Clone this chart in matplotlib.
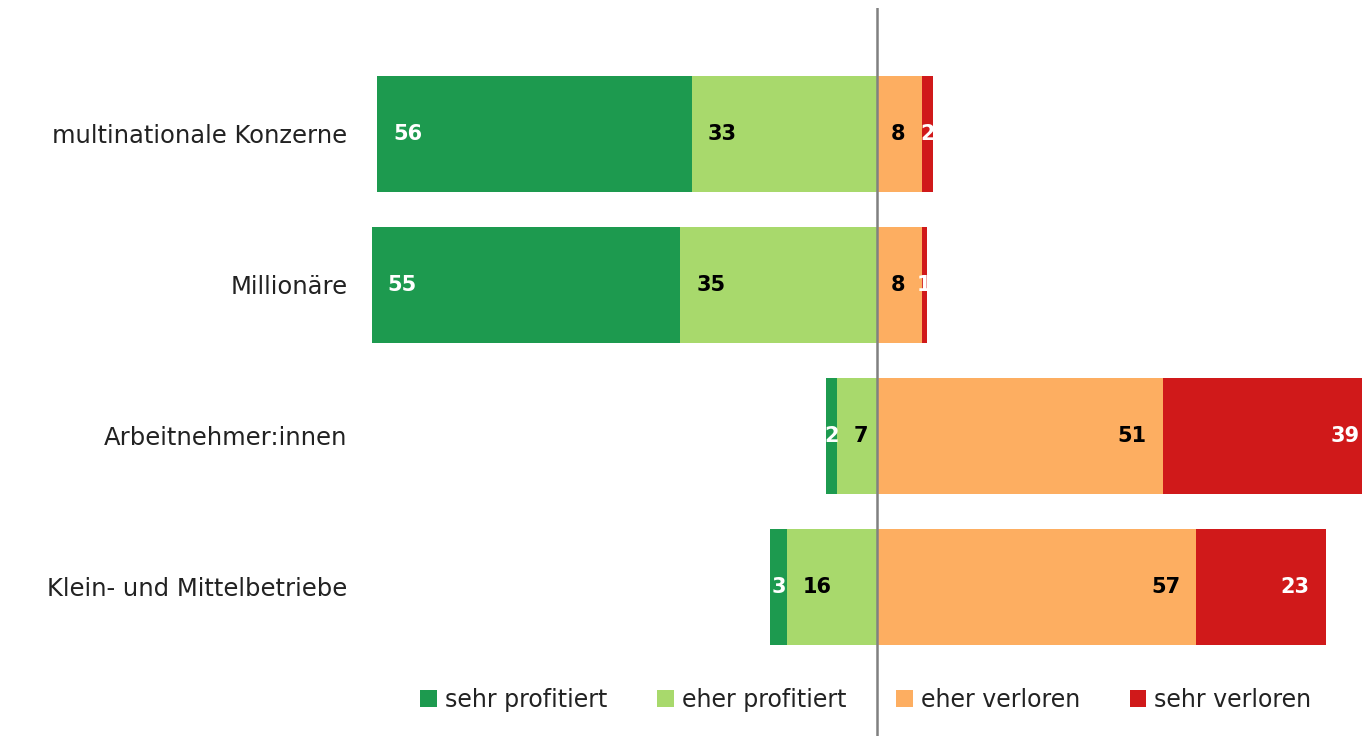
import matplotlib
matplotlib.use("Agg")
import matplotlib.pyplot as plt
from matplotlib.patches import Patch

plt.rcParams['font.family'] = ['DejaVu Sans']

categories = ["multinationale Konzerne", "Millionäre", "Arbeitnehmer:innen",
              "Klein- und Mittelbetriebe"]
sehr_profitiert = [56, 55, 2, 3]
eher_profitiert = [33, 35, 7, 16]
eher_verloren = [8, 8, 51, 57]
sehr_verloren = [2, 1, 39, 23]
series_names = ["sehr profitiert", "eher profitiert", "eher verloren", "sehr verloren"]

colors = ["#1d9a4f", "#a8d96c", "#fdae61", "#d0191a"]
text_colors = ["white", "black", "black", "white"]

XMIN, XMAX = -92.1, 86.5

fig = plt.figure(figsize=(13.62, 7.36), dpi=100)
ax = fig.add_axes([360 / 1362, 0, 1002 / 1362, 728 / 736])

ys = list(range(len(categories)))
h = 0.77

for i, y in enumerate(ys):
    # left side: dark green outermost, light green next to the zero line
    left_vals = [(-(sehr_profitiert[i] + eher_profitiert[i]), sehr_profitiert[i], 0),
                 (-eher_profitiert[i], eher_profitiert[i], 1)]
    right_vals = [(0, eher_verloren[i], 2),
                  (eher_verloren[i], sehr_verloren[i], 3)]
    for start, w, k in left_vals + right_vals:
        ax.barh(y, w, left=start, height=h, color=colors[k], edgecolor="none")
        if w < 5:
            ax.annotate(str(w), (start + w / 2, y), ha="center", va="center",
                        fontsize=15, fontweight="bold", color=text_colors[k])
        elif k < 2:
            ax.annotate(str(w), (start, y), xytext=(11.5, 0), textcoords="offset points",
                        ha="left", va="center", fontsize=15, fontweight="bold",
                        color=text_colors[k])
        else:
            end = start + w
            off = -11.5
            if end > XMAX:  # bar runs off the edge, keep label inside
                end, off = XMAX, -1.5
            ax.annotate(str(w), (end, y), xytext=(off, 0), textcoords="offset points",
                        ha="right", va="center", fontsize=15, fontweight="bold",
                        color=text_colors[k])

ax.axvline(0, color="#808080", lw=1.8)
ax.set_xlim(XMIN, XMAX)
ax.set_ylim(3.987, -0.834)
ax.set_yticks(ys)
ax.set_yticklabels(categories, fontsize=17.5, color="#222222")
ax.tick_params(axis="y", length=0, pad=9)
ax.set_xticks([])
for s in ax.spines.values():
    s.set_visible(False)

handles = [Patch(facecolor=c, edgecolor="none") for c in colors]
fig.legend(handles, series_names, loc="center", bbox_to_anchor=(866 / 1362, 1 - 700 / 736),
           ncol=4, frameon=False, fontsize=17, handlelength=0.7, handleheight=0.7,
           handletextpad=0.35, columnspacing=2.1, labelcolor="#222222")

fig.savefig("out.png", dpi=100)
